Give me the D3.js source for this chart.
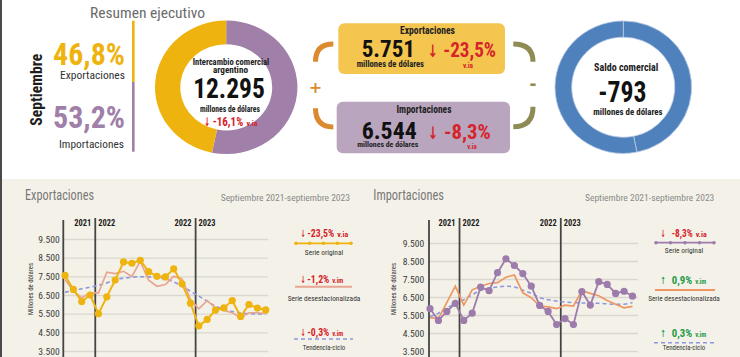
<!DOCTYPE html>
<html><head><meta charset="utf-8">
<script src="https://cdn.jsdelivr.net/npm/d3@7"></script>
<style>html,body{margin:0;padding:0;background:#fff;overflow:hidden}</style>
</head><body><svg id="c" width="740" height="357"></svg>
<script>
// ---------------- DATA ----------------
const months = ["sep-21","oct-21","nov-21","dic-21","ene-22","feb-22","mar-22","abr-22","may-22","jun-22","jul-22","ago-22","sep-22","oct-22","nov-22","dic-22","ene-23","feb-23","mar-23","abr-23","may-23","jun-23","jul-23","ago-23","sep-23"];
const exportsOriginal = [7550,6800,6150,6500,5500,6400,7300,8270,8200,8360,7750,7500,7470,7900,7100,6060,4850,5190,5690,5810,6200,5350,5990,5800,5700];
const exportsSA       = [7330,6700,6350,6610,6610,7720,7650,7770,7490,8300,7290,6970,7060,7500,7360,6260,5760,6200,5810,5670,5550,5280,5550,5550,5510];
const exportsTrend    = [6650,6730,6830,6920,7020,7150,7320,7400,7450,7480,7470,7430,7360,7200,6970,6700,6440,6170,5900,5730,5620,5540,5500,5490,5490];
const importsOriginal = [5850,5200,5700,6150,5200,5600,7050,6850,7850,8620,8250,7800,7100,6030,5700,4970,5300,4970,6800,6050,7350,7200,6700,6820,6544];
const importsSA       = [5350,5300,6200,7100,6050,6900,7100,7250,7300,7600,7720,6730,6460,6000,5950,5850,6050,6000,6850,6700,6570,6300,6100,5900,5980];
const importsTrend    = [5420,5600,5880,6160,6350,6620,6870,6980,7060,7100,7060,6880,6700,6470,6350,6280,6220,6190,6170,6160,6150,6120,6090,6100,6200];
const yTicks = [3500,4500,5500,6500,7500,8500,9500];
const yearLabels = [["2021","2022"],["2022","2023"]];
const shareLabels = ["Exportaciones","Importaciones"];
const shareValues = [46.8, 53.2];
const tradeTotal = 12295, tradeChange = -16.1;
const exportsValue = 5751, exportsChange = -23.5;
const importsValue = 6544, importsChange = -8.3;
const balanceValue = -793;
const legendNames = ["Serie original","Serie desestacionalizada","Tendencia-ciclo"];
const exportsLegend = [-23.5,-1.2,-0.3];
const importsLegend = [-8.3,0.9,0.3];
const legendUnits = ["v.ia","v.im","v.im"];

// ---------------- SETUP ----------------
const loc = d3.formatLocale({decimal:",",thousands:".",grouping:[3],currency:["$",""],minus:"-"});
const fInt = loc.format(",");
const f1 = loc.format(".1f");
const F = "'Roboto Condensed','DejaVu Sans Condensed',sans-serif";
const A = "'DejaVu Sans',sans-serif";
const RED = "#d6232a", GREEN = "#1f9a4b";
const YEL = "#efb30f", PUR = "#a07fa8", BLUE = "#4f81bd";
const svg = d3.select("#c");

function T(x,y,s,o={}){
  const t = svg.append("text").attr("x",x).attr("y",y).text(s)
    .attr("font-family",o.ff||F).attr("font-size",o.size||10)
    .attr("font-weight",o.w||"normal").attr("fill",o.fill||"#222")
    .attr("text-anchor",o.a||"start");
  if(o.len) t.attr("textLength",o.len).attr("lengthAdjust","spacingAndGlyphs");
  if(o.rot) t.attr("transform",`rotate(${o.rot},${x},${y})`);
  return t;
}
// one text element made of positioned pieces (multi-line blocks, arrow+value+unit)
function M(parts,o={}){
  const t = svg.append("text").attr("font-family",F).attr("font-weight",o.w||"bold").attr("fill",o.fill||"#222");
  parts.forEach(p=>{
    const s = t.append("tspan").attr("x",p.x).attr("y",p.y).attr("font-size",p.size).text(p.t);
    if(p.ff) s.attr("font-family",p.ff);
    if(p.fill) s.attr("fill",p.fill);
    if(p.w) s.attr("font-weight",p.w);
    if(p.a) s.attr("text-anchor",p.a);
    if(p.len) s.attr("textLength",p.len).attr("lengthAdjust","spacingAndGlyphs");
  });
  return t;
}

// backgrounds
svg.append("rect").attr("width",740).attr("height",357).attr("fill","#fff");
svg.append("rect").attr("x",0).attr("y",179).attr("width",740).attr("height",178).attr("fill","#f4f2e8");
svg.append("rect").attr("x",0).attr("y",0).attr("width",2).attr("height",357).attr("fill","#4a4a4a");

// ---------------- TOP SUMMARY ----------------
T(90,18,"Resumen ejecutivo",{size:14,fill:"#6b6b6b",len:115});
T(42.5,89.7,"Septiembre",{size:17,w:"bold",fill:"#1e1e1e",a:"middle",rot:-90,len:72});
M([{x:125,y:65,t:f1(shareValues[0])+"%",size:31,fill:YEL,a:"end",len:72},
   {x:125,y:79,t:shareLabels[0],size:11.5,fill:"#333",w:"normal",a:"end",len:65}]);
M([{x:125,y:128,t:f1(shareValues[1])+"%",size:31,fill:PUR,a:"end",len:72},
   {x:124,y:148,t:shareLabels[1],size:11.5,fill:"#333",w:"normal",a:"end",len:65}]);
// split bar
const barY = d3.scaleLinear().domain([0,100]).range([20.7,151.7]);
svg.append("rect").attr("x",132).attr("width",2.6).attr("y",barY(0)).attr("height",barY(shareValues[0])-barY(0)).attr("fill",YEL);
svg.append("rect").attr("x",132).attr("width",2.6).attr("y",barY(shareValues[0])).attr("height",barY(100)-barY(shareValues[0])).attr("fill",PUR);

// donut 1 (intercambio)
const pie = d3.pie().sort(null).value(d=>d);
const arc1 = d3.arc().innerRadius(46).outerRadius(71.2);
const g1 = svg.append("g").attr("transform","translate(226.2,87.3) scale(1,0.937)");
g1.selectAll("path").data(pie([shareValues[1],shareValues[0]])).join("path")
  .attr("d",arc1).attr("fill",(d,i)=>i===0?PUR:YEL);
M([{x:231,y:65,t:"Intercambio comercial",size:9,a:"middle",len:76.6},
   {x:230.5,y:73.3,t:"argentino",size:9,a:"middle",len:35},
   {x:229,y:98.3,t:fInt(tradeTotal),size:27,a:"middle",len:71.7,fill:"#111"},
   {x:230,y:111.7,t:"millones de dólares",size:8.5,a:"middle",len:60}]);
M([{x:204,y:126,t:"↓",ff:A,size:12,len:6},{x:212.7,y:126,t:f1(tradeChange)+"%",size:12.5,len:30.5},
   {x:246.5,y:126,t:"v.ia",size:7,len:11}],{fill:RED});

// brackets
const br = [["M333.3,44 Q315.5,44 315.5,61.7","#dc8a2f"],["M315.5,108.3 Q315.5,127 333.3,127","#dc8a2f"],
            ["M513.3,44 Q533,44 533,61.7","#8f8b55"],["M533,106.7 Q533,126.7 513.3,126.7","#8f8b55"]];
br.forEach(b=>svg.append("path").attr("d",b[0]).attr("fill","none").attr("stroke",b[1]).attr("stroke-width",5));
T(315.5,93,"+",{ff:A,size:16,w:"bold",fill:"#dc8a2f",a:"middle"});
T(533,92,"-",{size:22,w:"bold",fill:"#8f8b55",a:"middle",len:8});

// export box
svg.append("rect").attr("x",338.3).attr("y",23.3).attr("width",166.7).attr("height",50.7).attr("rx",6).attr("fill","#f4c650");
M([{x:427.5,y:34.3,t:"Exportaciones",size:10,a:"middle",len:55},
   {x:361.7,y:57.3,t:fInt(exportsValue),size:24,len:53.3,fill:"#111"},
   {x:356.7,y:67.3,t:"millones de dólares",size:8.5,len:67.3}]);
M([{x:427.7,y:57.3,t:"↓",ff:A,size:17,len:10},{x:443.3,y:57.3,t:f1(exportsChange)+"%",size:20.5,len:52.7},
   {x:463,y:68.3,t:"v.ia",size:7,len:10}],{fill:RED});

// import box
svg.append("rect").attr("x",336.7).attr("y",101.7).attr("width",173.3).attr("height",51.6).attr("rx",6).attr("fill","#b9a5be");
M([{x:424,y:113.3,t:"Importaciones",size:10,a:"middle",len:55},
   {x:361.7,y:139,t:fInt(importsValue),size:24,len:55,fill:"#111"},
   {x:357.3,y:147.3,t:"millones de dólares",size:8,len:61}]);
M([{x:428,y:139,t:"↓",ff:A,size:17,len:10},{x:444,y:139,t:f1(importsChange)+"%",size:20.5,len:46.7},
   {x:467.3,y:149,t:"v.ia",size:7,len:9.4}],{fill:RED});

// saldo donut
const arc2 = d3.arc().innerRadius(51.6).outerRadius(68.3);
const g2 = svg.append("g").attr("transform","translate(623.3,87.2) scale(1,0.97)");
g2.selectAll("path").data(pie(shareValues)).join("path")
  .attr("d",arc2).attr("fill",BLUE).attr("stroke","#b9cbe3").attr("stroke-width",0.8);
M([{x:626.2,y:70.7,t:"Saldo comercial",size:10.5,a:"middle",len:64.3},
   {x:598.3,y:101.7,t:fInt(balanceValue),size:29,len:48.3,fill:"#111"},
   {x:593.3,y:115,t:"millones de dólares",size:9.5,len:69.3}]);

// ---------------- LINE PANELS ----------------
function panel(cfg){
  const x = d3.scalePoint().domain(months).range(cfg.xr);
  const y = d3.scaleLinear().domain([3500,9500]).range(cfg.yr);
  T(cfg.titleX,200,cfg.title,{size:14,fill:"#787878",len:cfg.titleLen});
  T(cfg.subX,200.7,"Septiembre 2021-septiembre 2023",{size:9.5,fill:"#8a8a8a",len:129.3});
  const ax = svg.append("g").attr("transform",`translate(${cfg.axisX},0)`)
    .call(d3.axisLeft(y).tickValues(yTicks).tickFormat(fInt).tickSize(-(cfg.gridR-cfg.axisX)).tickPadding(4));
  ax.select(".domain").remove();
  ax.selectAll(".tick line").attr("stroke","#d9d7cf").attr("stroke-width",1.4);
  ax.selectAll(".tick text").attr("font-family",F).attr("font-size",9.5).attr("fill","#3c3c3c")
    .attr("textLength",21.5).attr("lengthAdjust","spacingAndGlyphs").attr("x",-cfg.labPad);
  T(cfg.ytX,289,"Millones de dólares",{size:7.5,fill:"#333",a:"middle",rot:-90,len:52});
  svg.append("line").attr("x1",cfg.axisX).attr("x2",cfg.axisX).attr("y1",220).attr("y2",357).attr("stroke","#444").attr("stroke-width",1.8);
  [["dic-21","ene-22"],["dic-22","ene-23"]].forEach((p,i)=>{
    const sx = (x(p[0])+x(p[1]))/2 + cfg.sepOff;
    svg.append("line").attr("x1",sx).attr("x2",sx).attr("y1",218).attr("y2",357).attr("stroke","#444").attr("stroke-width",1.8);
    T(sx-4,226,yearLabels[i][0],{size:9.5,w:"bold",fill:"#222",a:"end",len:17});
    T(sx+3,226,yearLabels[i][1],{size:9.5,w:"bold",fill:"#222",len:17});
  });
  const line = d3.line().x((d,i)=>x(months[i])).y(d=>y(d));
  const curve = d3.line().x((d,i)=>x(months[i])).y(d=>y(d)).curve(d3.curveMonotoneX);
  svg.append("path").attr("d",curve(cfg.trend)).attr("fill","none").attr("stroke","#8c98de").attr("stroke-width",1.6).attr("stroke-dasharray","4,3");
  svg.append("path").attr("d",line(cfg.sa)).attr("fill","none").attr("stroke",cfg.saColor).attr("stroke-width",1.7);
  svg.append("path").attr("d",line(cfg.orig)).attr("fill","none").attr("stroke",cfg.origColor).attr("stroke-width",cfg.origW);
  svg.append("g").selectAll("circle").data(cfg.orig).join("circle")
    .attr("cx",(d,i)=>x(months[i])).attr("cy",d=>y(d)).attr("r",3.6).attr("fill",cfg.origColor);
  const L = cfg.leg;
  cfg.changes.forEach((v,i)=>{
    const col = v<0?RED:GREEN;
    M([{x:L.arrowX,y:L.base[i],t:v<0?"↓":"↑",ff:A,size:10,len:5},
       {x:L.numX,y:L.base[i],t:f1(v)+"%",size:10.5,len:L.numLen[i]},
       {x:L.numX+L.numLen[i]+3,y:L.base[i],t:legendUnits[i],size:7,len:11}],{fill:col});
    T(L.nameX,L.nameY[i],legendNames[i],{size:8,fill:"#333",a:"middle",len:L.nameLen[i]});
  });
  const ly0 = L.lineY;
  svg.append("line").attr("x1",L.x1).attr("x2",L.x2).attr("y1",ly0[0]).attr("y2",ly0[0]).attr("stroke",cfg.origColor).attr("stroke-width",1.8);
  d3.range(5).forEach(k=>svg.append("circle").attr("cx",L.x1+1+k*(L.x2-L.x1-2)/4).attr("cy",ly0[0]).attr("r",1.8).attr("fill",cfg.origColor));
  svg.append("line").attr("x1",L.x1).attr("x2",L.x2).attr("y1",ly0[1]).attr("y2",ly0[1]).attr("stroke",cfg.saColor).attr("stroke-width",2);
  svg.append("line").attr("x1",L.x1-1).attr("x2",L.x2+1).attr("y1",ly0[2]).attr("y2",ly0[2]).attr("stroke","#8c98de").attr("stroke-width",1.6).attr("stroke-dasharray","4,3");
}

panel({title:"Exportaciones",titleX:25,titleLen:69,subX:220.7,
  xr:[65,265.7],yr:[351,239],axisX:63.3,gridR:268,labPad:3.5,ytX:33,sepOff:1,
  orig:exportsOriginal,sa:exportsSA,trend:exportsTrend,origColor:YEL,origW:2,saColor:"#e9a592",
  changes:exportsLegend,
  leg:{arrowX:300.5,numX:307.3,numLen:[27,22,22],base:[237.3,283.3,335.7],
       nameX:324,nameY:[255,301,350],nameLen:[38.3,72.7,42.7],
       x1:295,x2:352,lineY:[243.3,286.7,339]}});

panel({title:"Importaciones",titleX:373.3,titleLen:70.7,subX:585,
  xr:[430,632.5],yr:[351,243],axisX:429,gridR:638,labPad:4.7,ytX:396,sepOff:0,
  orig:importsOriginal,sa:importsSA,trend:importsTrend,origColor:"#9d7bab",origW:1.8,saColor:"#ef9763",
  changes:importsLegend,
  leg:{arrowX:660.5,numX:671.7,numLen:[21,20.5,20.5],base:[237.3,284.3,336.7],
       nameX:684,nameY:[253.3,301,350],nameLen:[38.3,71.7,42.3],
       x1:655,x2:715,lineY:[242.7,290,342.7]}});
</script></body></html>
